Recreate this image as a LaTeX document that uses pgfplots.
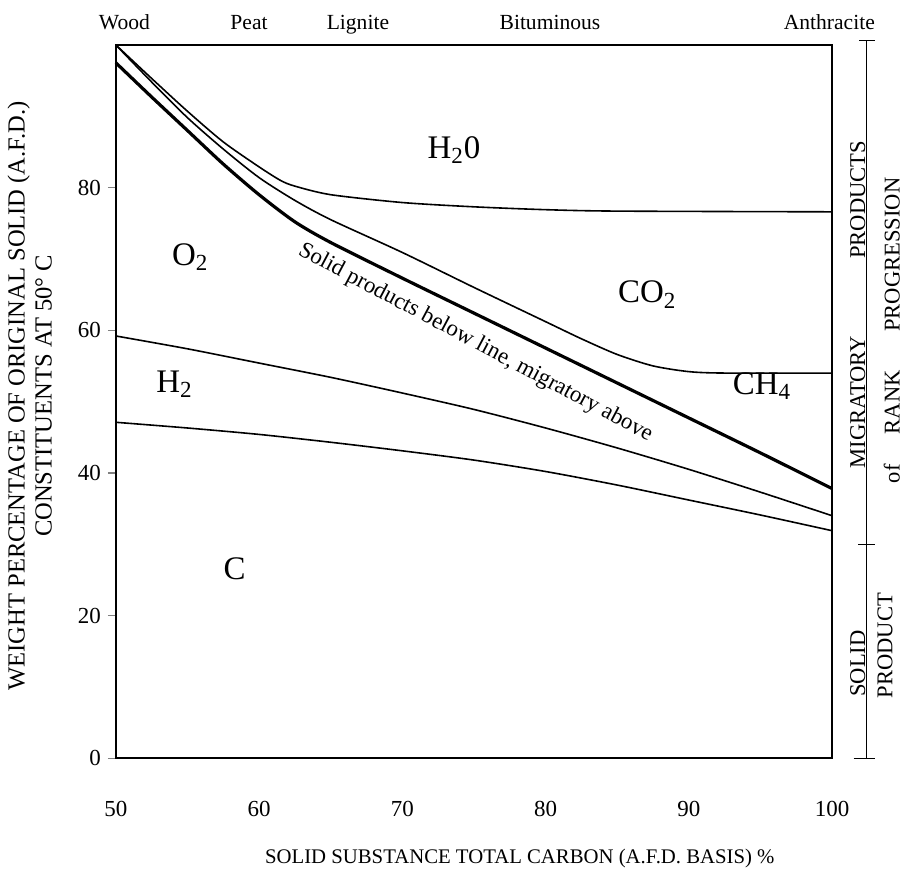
\documentclass[border=0pt]{standalone}
\usepackage{fontspec}
\setmainfont{Liberation Serif}
\usepackage{pgfplots}
\pgfplotsset{compat=1.18}

\begin{document}
\begin{tikzpicture}
\begin{axis}[
  width=359pt, height=357.5pt, scale only axis,
  xmin=50, xmax=100, ymin=0, ymax=100,
  axis line style={line width=0.9pt},
  xtick={50,60,70,80,90,100},
  ytick={0,20,40,60,80},
  xtick style={draw=none},
  ytick style={line width=0.7pt},
  tick align=outside, ytick pos=left, xtick pos=bottom,
  major tick length=4pt,
  tick label style={font=\fontsize{11.5}{13}\selectfont},
  xticklabel style={yshift=-14pt},
  /pgf/number format/assume math mode=true,
  clip=false,
]
% H2O / CO2 boundary
\addplot[line width=0.8pt, smooth, tension=0.45] coordinates {
  (50,100) (52.5,95.3) (55,90.7) (57.5,86.4) (60,82.9) (61.5,81.0)
  (62.5,80.2) (65,79.0) (70,77.9) (75,77.3) (80,76.9) (85,76.7) (100,76.6)
};
% CO2 / CH4 boundary
\addplot[line width=0.8pt, smooth, tension=0.45] coordinates {
  (50,100) (52.5,94.8) (55,89.8) (57.5,85.4) (60,81.4) (62.5,78.2)
  (65,75.5) (70,70.9) (75,66.0) (80,61.2) (82.5,58.8) (85,56.6)
  (87.5,55.0) (90,54.2) (92.5,54.0) (100,54.0)
};
% solid / migratory line
\addplot[line width=1.6pt, smooth, tension=0.45] coordinates {
  (50,97.5) (52.5,92.7) (55,88.0) (57.5,83.3) (60,79.0) (62.5,75.2)
  (65,72.3) (70,67.3) (75,62.4) (80,57.5) (85,52.6) (90,47.7)
  (95,42.8) (100,37.8)
};
% O2 / H2 boundary
\addplot[line width=0.8pt, smooth, tension=0.45] coordinates {
  (50,59.2) (55,57.4) (60,55.4) (65,53.4) (70,51.2) (75,48.9)
  (80,46.3) (85,43.5) (90,40.5) (95,37.3) (100,34.0)
};
% H2 / C boundary
\addplot[line width=0.8pt, smooth, tension=0.45] coordinates {
  (50,47.1) (55,46.3) (60,45.4) (65,44.3) (70,43.1) (75,41.8)
  (80,40.2) (85,38.3) (90,36.2) (95,34.1) (100,31.9)
};

% region names
\begin{scope}[every node/.style={font=\fontsize{16.5}{18}\selectfont}]
\node at (axis cs:73.6,85.3) {H\textsubscript{2}0};
\node at (axis cs:55.2,70.3) {O\textsubscript{2}};
\node at (axis cs:87.1,65.0) {CO\textsubscript{2}};
\node at (axis cs:95.1,52.2) {CH\textsubscript{4}};
\node at (axis cs:54.1,52.4) {H\textsubscript{2}};
\node at (axis cs:58.3,26.6) {C};
\end{scope}

\node[rotate=-28, font=\fontsize{11.5}{13}\selectfont]
  at (axis cs:75.1,58.2) {Solid products below line, migratory above};

% coal ranks along the top
\begin{scope}[every node/.style={anchor=base, font=\fontsize{10.8}{12}\selectfont}]
\node at (axis cs:50.6,102.2) {Wood};
\node at (axis cs:59.3,102.2) {Peat};
\node at (axis cs:66.9,102.2) {Lignite};
\node at (axis cs:80.3,102.2) {Bituminous};
\node at (axis cs:99.8,102.2) {Anthracite};
\end{scope}

% axis titles
\node[rotate=90, align=center, font=\fontsize{12.3}{13.5}\selectfont]
  at (axis cs:44.0,50.8) {WEIGHT PERCENTAGE OF ORIGINAL SOLID (A.F.D.)\\CONSTITUENTS AT 50° C};
\node[font=\fontsize{10.4}{12}\selectfont]
  at (axis cs:78.2,-14.0) {SOLID SUBSTANCE TOTAL CARBON (A.F.D. BASIS) \%};

% side scale
\draw[line width=0.8pt] (axis cs:102.4,0) -- (axis cs:102.4,100.6);
\draw[line width=0.7pt] (axis cs:101.9,100.6) -- (axis cs:103.0,100.6);
\draw[line width=0.7pt] (axis cs:101.8,30) -- (axis cs:103.0,30);
\draw[line width=0.7pt] (axis cs:101.5,0) -- (axis cs:103.0,0);
\begin{scope}[every node/.style={rotate=90, anchor=base, font=\fontsize{11.3}{13}\selectfont}]
\node at (axis cs:102.3,49.9) {MIGRATORY};
\node at (axis cs:102.3,78.3) {PRODUCTS};
\node at (axis cs:102.3,13.3) {SOLID};
\node at (axis cs:104.7,39.9) {of};
\node at (axis cs:104.7,49.9) {RANK};
\node at (axis cs:104.7,70.6) {PROGRESSION};
\node at (axis cs:104.2,15.8) {PRODUCT};
\end{scope}

\coordinate (bl) at (axis cs:41.92,-15.94);
\coordinate (tr) at (axis cs:105.15,106.29);
\end{axis}
\pgfresetboundingbox
\path (bl) rectangle (tr);
\end{tikzpicture}
\end{document}
